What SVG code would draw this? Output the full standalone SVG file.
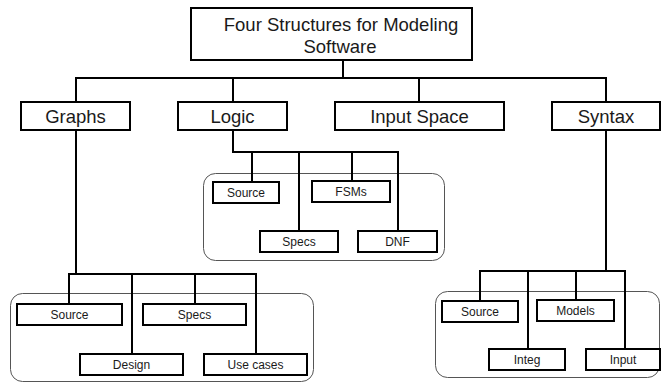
<svg xmlns="http://www.w3.org/2000/svg" width="662" height="383" viewBox="0 0 662 383">
  <style>
    .box { fill: #ffffff; stroke: #000000; stroke-width: 2; }
    .group { fill: none; stroke: #555555; stroke-width: 1; }
    .wire { fill: none; stroke: #000000; stroke-width: 2; }
    text { font-family: "Liberation Sans", Arial, sans-serif; fill: #1a1a1a; text-anchor: middle; }
    .t-title { font-size: 18.5px; }
    .t-main { font-size: 18.5px; }
    .t-leaf { font-size: 12px; }
  </style>

  <!-- grouping outlines around each family of leaves -->
  <g id="groups">
    <rect class="group" x="203.5" y="173.5" width="241" height="87" rx="12"/>
    <rect class="group" x="10.5" y="293.5" width="303" height="88" rx="12"/>
    <rect class="group" x="435.5" y="291.5" width="224" height="86" rx="12"/>
  </g>

  <!-- tree connectors -->
  <g id="connectors">
    <!-- root to the four structures -->
    <polyline class="wire" points="343,60 343,78"/>
    <polyline class="wire" points="76,102 76,78 606,78 606,102"/>
    <line class="wire" x1="233" y1="78" x2="233" y2="102"/>
    <line class="wire" x1="419" y1="78" x2="419" y2="102"/>
    <!-- Logic branch -->
    <polyline class="wire" points="233,131 233,152 398,152 398,231"/>
    <line class="wire" x1="252" y1="152" x2="252" y2="182"/>
    <line class="wire" x1="299" y1="152" x2="299" y2="231"/>
    <line class="wire" x1="352" y1="152" x2="352" y2="181"/>
    <!-- Graphs branch -->
    <line class="wire" x1="76" y1="131" x2="76" y2="274"/>
    <polyline class="wire" points="69,304 69,274 256,274 256,354"/>
    <line class="wire" x1="132" y1="274" x2="132" y2="354"/>
    <line class="wire" x1="195" y1="274" x2="195" y2="304"/>
    <!-- Syntax branch -->
    <line class="wire" x1="606" y1="131" x2="606" y2="271"/>
    <polyline class="wire" points="480,301 480,271 625,271 625,349"/>
    <line class="wire" x1="528" y1="271" x2="528" y2="349"/>
    <line class="wire" x1="576" y1="271" x2="576" y2="300"/>
  </g>

  <g id="root">
    <rect class="box" x="191" y="8" width="281" height="52"/>
    <text class="t-title" x="341" y="31">Four Structures for Modeling</text>
    <text class="t-title" x="340" y="53">Software</text>
  </g>

  <g id="graphs">
    <rect class="box" x="21" y="102" width="109" height="28"/>
    <text class="t-main" x="75.5" y="123">Graphs</text>
  </g>
  <g id="logic">
    <rect class="box" x="178" y="102" width="109" height="28"/>
    <text class="t-main" x="232.5" y="123">Logic</text>
  </g>
  <g id="input-space">
    <rect class="box" x="335" y="102" width="169" height="28"/>
    <text class="t-main" x="419.5" y="123">Input Space</text>
  </g>
  <g id="syntax">
    <rect class="box" x="552" y="102" width="108" height="28"/>
    <text class="t-main" x="606" y="123">Syntax</text>
  </g>

  <!-- Logic leaves -->
  <g id="logic-source">
    <rect class="box" x="213" y="182" width="66" height="21"/>
    <text class="t-leaf" x="246" y="197">Source</text>
  </g>
  <g id="logic-fsms">
    <rect class="box" x="312" y="181" width="78" height="21"/>
    <text class="t-leaf" x="351" y="196">FSMs</text>
  </g>
  <g id="logic-specs">
    <rect class="box" x="260" y="231" width="78" height="21"/>
    <text class="t-leaf" x="299" y="246">Specs</text>
  </g>
  <g id="logic-dnf">
    <rect class="box" x="358" y="231" width="79" height="21"/>
    <text class="t-leaf" x="397.5" y="246">DNF</text>
  </g>

  <!-- Graphs leaves -->
  <g id="graphs-source">
    <rect class="box" x="17" y="304" width="105" height="21"/>
    <text class="t-leaf" x="69.5" y="319">Source</text>
  </g>
  <g id="graphs-specs">
    <rect class="box" x="143" y="304" width="103" height="21"/>
    <text class="t-leaf" x="194.5" y="319">Specs</text>
  </g>
  <g id="graphs-design">
    <rect class="box" x="80" y="354" width="103" height="21"/>
    <text class="t-leaf" x="131.5" y="369">Design</text>
  </g>
  <g id="graphs-use-cases">
    <rect class="box" x="204" y="354" width="103" height="21"/>
    <text class="t-leaf" x="255.5" y="369">Use cases</text>
  </g>

  <!-- Syntax leaves -->
  <g id="syntax-source">
    <rect class="box" x="442" y="301" width="76" height="21"/>
    <text class="t-leaf" x="480" y="316">Source</text>
  </g>
  <g id="syntax-models">
    <rect class="box" x="537" y="300" width="77" height="21"/>
    <text class="t-leaf" x="575.5" y="315">Models</text>
  </g>
  <g id="syntax-integ">
    <rect class="box" x="489" y="349" width="76" height="21"/>
    <text class="t-leaf" x="527" y="364">Integ</text>
  </g>
  <g id="syntax-input">
    <rect class="box" x="586" y="349" width="74" height="21"/>
    <text class="t-leaf" x="623" y="364">Input</text>
  </g>
</svg>
